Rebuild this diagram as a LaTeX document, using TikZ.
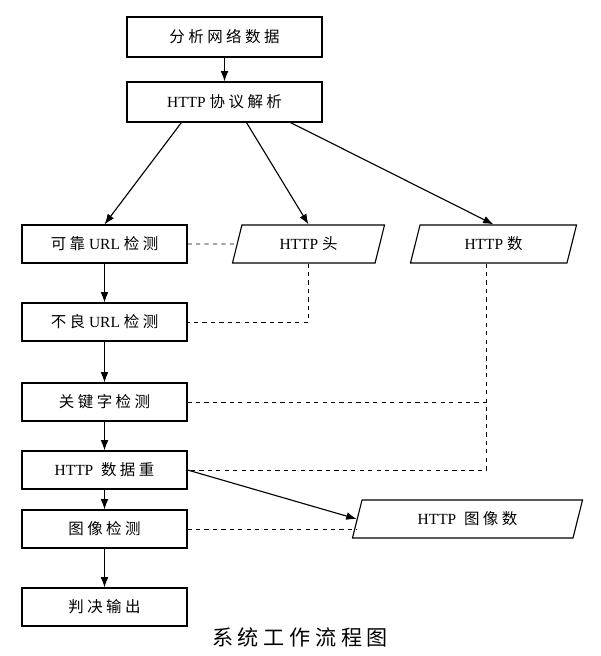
\documentclass[tikz,border=0pt]{standalone}
\usepackage{fontspec}
\setmainfont{Liberation Serif}
\newfontfamily\cjk{Noto Sans CJK SC}
\usepackage{tikz}
\usetikzlibrary{shapes, shapes.geometric, arrows, arrows.meta}

\begin{document}
\begin{tikzpicture}[
    x=0.025cm, y=-0.025cm,
    topBox/.style={draw, thick, minimum width=4.875cm, minimum height=1cm},
    stepBox/.style={draw, thick, minimum width=4.125cm, minimum height=0.95cm},
    dataBox/.style={draw, thick, trapezium, trapezium left angle=68, trapezium right angle=112,
        trapezium stretches body, minimum height=0.95cm},
    every node/.style={
        text centered, font=\fontsize{11}{13}\selectfont
        }
        ]
    \useasboundingbox (0, 0) rectangle (600, 656);

    \node[topBox] (netdata) at (224.5, 37) {\cjk 分 析 网 络 数 据};
    \node[topBox] (parse) at (224.5, 102) {HTTP {\cjk 协 议 解 析}};

    \node[stepBox] (goodurl) at (104.5, 244) {{\cjk 可 靠} URL {\cjk 检 测}};
    \node[stepBox] (badurl) at (104.5, 322) {{\cjk 不 良} URL {\cjk 检 测}};
    \node[stepBox] (keyword) at (104.5, 402) {\cjk 关 键 字 检 测};
    \node[stepBox] (rebuild) at (104.5, 470) {HTTP\enspace{\cjk 数 据 重}};
    \node[stepBox] (image) at (104.5, 529) {\cjk 图 像 检 测};
    \node[stepBox] (verdict) at (104.5, 607) {\cjk 判 决 输 出};

    \node[dataBox, minimum width=3.8cm] (header) at (308.5, 244) {HTTP {\cjk 头}};
    \node[dataBox, minimum width=4.15cm] (body) at (493.5, 244) {HTTP {\cjk 数}};
    \node[dataBox, minimum width=5.75cm] (imgdata) at (467.5, 519) {HTTP\enspace{\cjk 图 像 数}};

    \node (caption) at (300, 637) {\cjk\fontsize{15}{17}\selectfont 系 统 工 作 流 程 图};

    \draw[->, thick, >={Latex[length=2.6mm]}] (netdata) -- (parse);
    \draw[->, thick, >={Latex[length=2.6mm]}] (parse.south west) ++(55, 0) -- (goodurl.north);
    \draw[->, thick, >={Latex[length=2.6mm]}] (parse.south) ++(22, 0) -- (header.north);
    \draw[->, thick, >={Latex[length=2.6mm]}] (parse.south east) ++(-32, 0) -- (body.north);
    \draw[->, thick, >={Latex[length=2.6mm]}] (goodurl) -- (badurl);
    \draw[->, thick, >={Latex[length=2.6mm]}] (badurl) -- (keyword);
    \draw[->, thick, >={Latex[length=2.6mm]}] (keyword) -- (rebuild);
    \draw[->, thick, >={Latex[length=2.6mm]}] (rebuild) -- (image);
    \draw[->, thick, >={Latex[length=2.6mm]}] (image) -- (verdict);
    \draw[->, thick, >={Latex[length=2.6mm]}] (rebuild.east) -- (imgdata.west);

    \draw[dashed, semithick] (goodurl.east) -- (header.west);
    \draw[dashed, semithick] (header.south) -- (header.south |- badurl.east) -- (badurl.east);
    \draw[dashed, semithick] (body.south) ++(-7, 0) coordinate (bodyfoot) -- (bodyfoot |- rebuild.east) -- (rebuild.east);
    \draw[dashed, semithick] (keyword.east) -- (bodyfoot |- keyword.east);
    \draw[dashed, semithick] (image.east) -- (imgdata.west |- image.east);
\end{tikzpicture}
\end{document}
